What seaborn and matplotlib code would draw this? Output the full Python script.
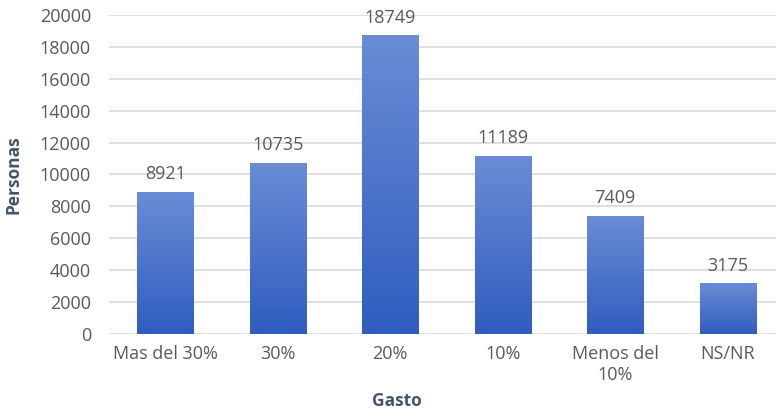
import numpy as np
import pandas as pd
import matplotlib
matplotlib.use("Agg")
import matplotlib.pyplot as plt
import seaborn as sns
from matplotlib.colors import LinearSegmentedColormap

categories = ["Mas del 30%", "30%", "20%", "10%", "Menos del\n10%", "NS/NR"]
personas = [8921, 10735, 18749, 11189, 7409, 3175]
yticks = [0, 2000, 4000, 6000, 8000, 10000, 12000, 14000, 16000, 18000, 20000]

df = pd.DataFrame({"Gasto": categories, "Personas": personas})

sns.set_theme(style="white")
plt.rcParams["font.family"] = ["Open Sans", "DejaVu Sans"]

fig = plt.figure(figsize=(7.76, 4.12), dpi=100)
ax = fig.add_axes([109 / 776, 1 - 334 / 412, (776 - 109) / 776, 319 / 412])

sns.barplot(data=df, x="Gasto", y="Personas", ax=ax, width=0.5,
            color="#4472c4", saturation=1, edgecolor="none")

ax.set_ylim(0, 20000)
ax.set_xlim(-0.5, 5.43)
ax.set_yticks(yticks)
ax.set_yticklabels([str(v) for v in yticks])
ax.yaxis.grid(True, color="#d9d9d9", linewidth=1.2)
ax.set_axisbelow(True)
for s in ax.spines.values():
    s.set_visible(False)

# vertical gradient fill for each bar
grad = LinearSegmentedColormap.from_list("bar", ["#2f5dc0", "#6a8cd5"])
gimg = np.linspace(0, 1, 256).reshape(-1, 1)
for p in ax.patches:
    x0, y0 = p.get_x(), p.get_y()
    w, h = p.get_width(), p.get_height()
    p.set_facecolor("none")
    im = ax.imshow(gimg, cmap=grad, aspect="auto", origin="lower",
                   extent=(x0, x0 + w, y0, y0 + h), zorder=2)
    im.set_clip_path(p)
ax.set_xlim(-0.5, 5.43)
ax.set_ylim(0, 20000)

for i, v in enumerate(personas):
    ax.annotate(str(v), (i, v), xytext=(0, 6), textcoords="offset points",
                ha="center", va="bottom", fontsize=13, color="#595959")

ax.tick_params(axis="both", length=0, labelsize=13, labelcolor="#595959")
ax.tick_params(axis="y", pad=13)
ax.tick_params(axis="x", pad=8)
ax.set_xlabel("Gasto", fontsize=12.5, fontweight="bold", color="#44546a", labelpad=6)
ax.xaxis.label.set_x(0.432)
ax.set_ylabel("Personas", fontsize=12.5, fontweight="bold", color="#44546a", labelpad=12)

fig.savefig("out.png", dpi=100)
